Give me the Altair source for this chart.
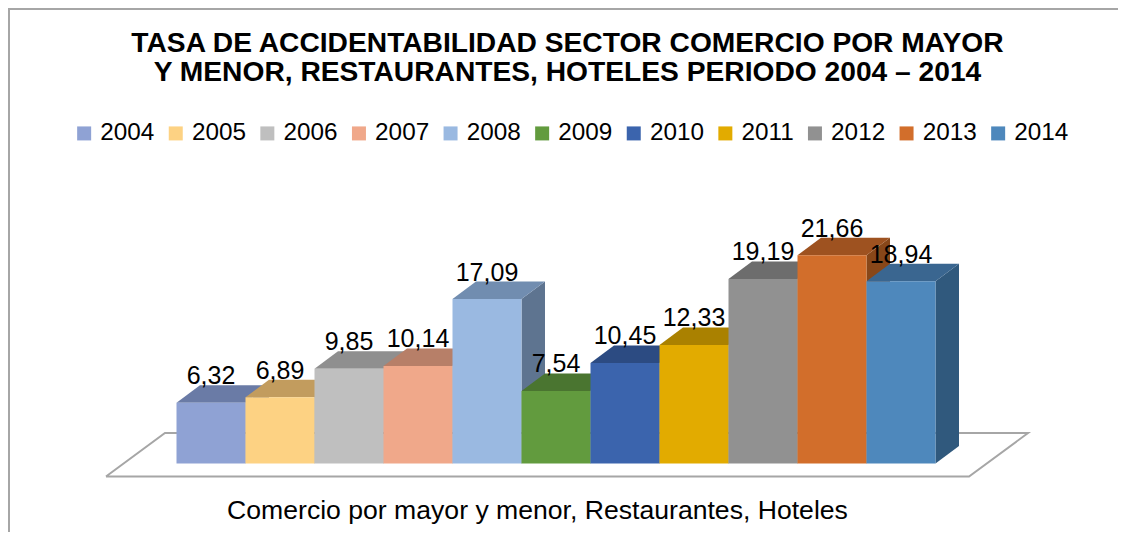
import altair as alt
import pandas as pd

# ---- data ----
years = ["2004", "2005", "2006", "2007", "2008", "2009", "2010", "2011", "2012", "2013", "2014"]
values = [6.32, 6.89, 9.85, 10.14, 17.09, 7.54, 10.45, 12.33, 19.19, 21.66, 18.94]
front_colors = ["#8FA2D4", "#FDD283", "#BFBFBF", "#F0A88A", "#9AB9E1", "#629B3E",
                "#3B64AD", "#E2AB00", "#919191", "#D26E2B", "#4E88BC"]
top_colors = ["#6A7BA6", "#C29C5E", "#8F8F8F", "#B77F68", "#718DB0", "#4A7530",
              "#2C4B82", "#AA8100", "#6D6D6D", "#9E5220", "#3A6690"]
side_colors = ["#5C6A8F", "#A88650", "#7C7C7C", "#9E6E5A", "#5E7490", "#3F6329",
               "#263F6E", "#926F00", "#5D5D5D", "#884719", "#30597D"]
title_lines = ["TASA DE ACCIDENTABILIDAD SECTOR COMERCIO POR MAYOR",
               "Y MENOR, RESTAURANTES, HOTELES PERIODO 2004 \u2013 2014"]
x_title = "Comercio por mayor y menor, Restaurantes, Hoteles"

# ---- layout (pixels) ----
W, H = 1110, 332
PAD_TOP, PAD_BOTTOM = 150, 50
BAR_PX = 69.0          # one category = 69 px
BAR0_PX = 168.5        # left edge of first bar inside plot
UNIT_PX = 9.62         # px per value unit
BASE_PX = 305.5        # y of value 0 inside plot
DX = 23.5 / BAR_PX     # 3-D depth in x units
DY = 17.5 / UNIT_PX    # 3-D depth in value units

x_dom = [-BAR0_PX / BAR_PX, (W - BAR0_PX) / BAR_PX]
y_dom = [-(H - BASE_PX) / UNIT_PX, BASE_PX / UNIT_PX]
xs = alt.Scale(domain=x_dom, range=[0, W], nice=False, zero=False)
ys = alt.Scale(domain=y_dom, range=[H, 0], nice=False, zero=False)

x_axis = alt.Axis(title=x_title, domain=False, ticks=False, labels=False, grid=False,
                  titleFont="Liberation Sans", titleFontSize=26.6, titleFontWeight="normal",
                  titleColor="#000000", titleX=529, titleY=28, titleAlign="center",
                  titleBaseline="alphabetic")


def X(field="x"):
    return alt.X(f"{field}:Q", scale=xs, axis=x_axis, title=x_title)


def Y(field="y"):
    return alt.Y(f"{field}:Q", scale=ys, axis=None)


# ---- tables built from the arrays ----
n = len(years)
front = pd.DataFrame({
    "year": years, "x": [i for i in range(n)], "x2": [i + 1 for i in range(n)],
    "y": values, "y2": [0.0] * n,
})

top_rows, side_rows = [], []
for i, (yr, v) in enumerate(zip(years, values)):
    x0, x1 = i, i + 1
    for xx, lo, hi in [(x0, v, v), (x0 + DX, v, v + DY), (x1, v, v + DY), (x1 + DX, v + DY, v + DY)]:
        top_rows.append({"year": yr, "x": xx, "y": lo, "y2": hi, "c": top_colors[i]})
    for xx, lo, hi in [(x1, 0.0, v), (x1 + DX, DY, v + DY)]:
        side_rows.append({"year": yr, "x": xx, "y": lo, "y2": hi, "c": side_colors[i]})
tops = pd.DataFrame(top_rows)
sides = pd.DataFrame(side_rows)

labels = pd.DataFrame({
    "x": [i + 0.5 for i in range(n)],
    "y": [v + DY for v in values],
    "label": [f"{v:.2f}".replace(".", ",") for v in values],
})

# floor parallelogram (front-left, back-left, back-right, front-right, close)
f_front, f_back = -1.35, 3.17
f_left, f_shift = -1.022, 0.855
f_right = n + 0.486
floor = pd.DataFrame({
    "k": [0, 1, 2, 3, 4],
    "x": [f_left, f_left + f_shift, f_right + f_shift, f_right, f_left],
    "y": [f_front, f_back, f_back, f_front, f_front],
})

# ---- layers ----
floor_layer = alt.Chart(floor).mark_line(color="#A6A6A6", strokeWidth=2).encode(
    x=X(), y=Y(), order=alt.Order("k:Q"))

side_layer = alt.Chart(sides).mark_area(orient="vertical").encode(
    x=X(), y=Y(), y2="y2:Q", detail="year:N", fill=alt.Fill("c:N", scale=None))

top_layer = alt.Chart(tops).mark_area(orient="vertical").encode(
    x=X(), y=Y(), y2="y2:Q", detail="year:N", fill=alt.Fill("c:N", scale=None))

front_layer = alt.Chart(front).mark_rect().encode(
    x=X(), x2="x2:Q", y=Y(), y2="y2:Q",
    color=alt.Color("year:N", scale=alt.Scale(domain=years, range=front_colors),
                    legend=alt.Legend(orient="none", legendX=64, legendY=-37,
                                      direction="horizontal", columns=n, title=None,
                                      symbolType="square", symbolSize=196,
                                      symbolStrokeWidth=0, symbolOpacity=1,
                                      labelFont="Liberation Sans", labelFontSize=24.3,
                                      labelColor="#000000", labelOffset=4,
                                      columnPadding=8.6)))

label_layer = alt.Chart(labels).mark_text(
    font="Liberation Sans", fontSize=25, color="#000000", baseline="alphabetic",
    align="center", dy=-1).encode(x=X(), y=Y(), text="label:N")

one = pd.DataFrame({"a": [0]})
title_layer = alt.Chart(one).mark_text(
    text=title_lines, font="Liberation Sans", fontSize=28.2, fontWeight="bold",
    color="#000000", align="center", baseline="alphabetic", lineHeight=29).encode(
    x=alt.value(559.5), y=alt.value(43.5 - PAD_TOP))

frame_top = alt.Chart(one).mark_rule(color="#A6A6A6", strokeWidth=2).encode(
    x=alt.value(0), x2=alt.value(W), y=alt.value(1 - PAD_TOP))
frame_left = alt.Chart(one).mark_rule(color="#A6A6A6", strokeWidth=2).encode(
    x=alt.value(1), y=alt.value(1 - PAD_TOP), y2=alt.value(374))

chart = alt.layer(
    frame_top, frame_left, floor_layer, side_layer, top_layer, front_layer,
    label_layer, title_layer
).properties(
    width=W, height=H,
    autosize=alt.AutoSizeParams(type="none"),
    padding={"left": 0, "top": PAD_TOP, "right": 0, "bottom": PAD_BOTTOM},
    background="#FFFFFF",
).configure_view(strokeWidth=0)

chart.save("out.html", embed_options={"renderer": "svg", "actions": False})
